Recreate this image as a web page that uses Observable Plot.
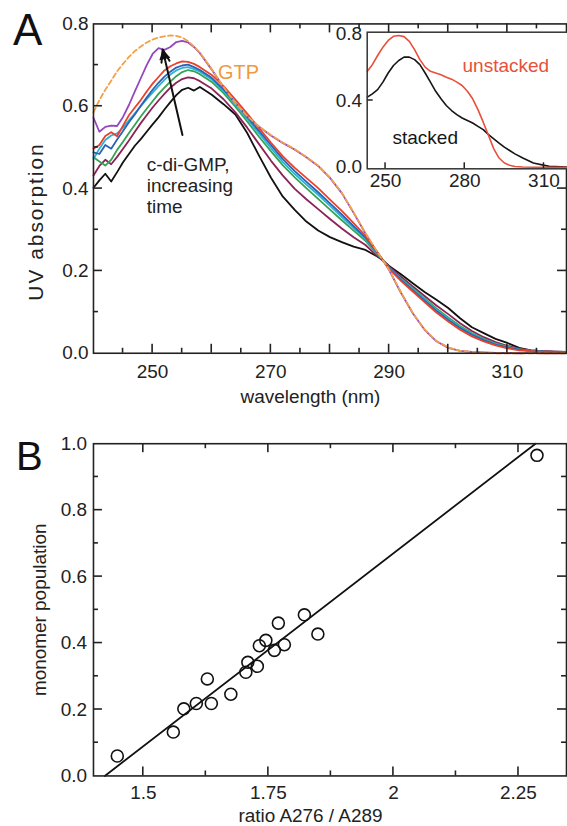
<!DOCTYPE html>
<html><head><meta charset="utf-8">
<script src="https://cdn.jsdelivr.net/npm/d3@7"></script>
<script src="https://cdn.jsdelivr.net/npm/@observablehq/plot@0.6"></script>
<style>
html,body{margin:0;padding:0;background:#fff;overflow:hidden}
#fig{position:relative;width:567px;height:826px;overflow:hidden;font-family:"Liberation Sans",Arial,Helvetica,sans-serif;color:#222;background:#fff}
#fig svg{position:absolute;overflow:visible}
.panel{position:absolute;line-height:1;color:#111;font-family:"Liberation Sans",Arial,Helvetica,sans-serif}
</style></head><body><div id="fig"></div>
<script>
// ---------- Panel A: UV spectra ----------
const wavelength = [240,241,242,243,244,245,246,247,248,249,250,251,252,253,254,255,256,257,258,260,262,264,266,268,270,272,274,276,278,280,282,284,286,288,289,290,292,294,296,298,300,302,304,306,308,310,312,314,316,318,320];
const absGTP = [0.585,0.615,0.640,0.662,0.685,0.703,0.720,0.734,0.745,0.755,0.762,0.767,0.770,0.772,0.771,0.767,0.758,0.745,0.730,0.690,0.647,0.607,0.576,0.551,0.530,0.512,0.496,0.477,0.456,0.427,0.390,0.342,0.292,0.246,0.225,0.203,0.148,0.098,0.058,0.030,0.014,0.006,0.003,0.001,0,0,0,0,0,0,0];
const absPurple = [0.572,0.538,0.550,0.553,0.552,0.574,0.603,0.636,0.668,0.700,0.727,0.741,0.737,0.744,0.756,0.759,0.755,0.744,0.729,0.689,0.646,0.606,0.575,0.550,0.529,0.511,0.495,0.476,0.455,0.426,0.389,0.341,0.291,0.245,0.225,0.202,0.147,0.097,0.057,0.029,0.013,0.006,0.003,0.002,0.001,0.001,0,0.001,0,0,0];
const absRed = [0.497,0.506,0.528,0.537,0.527,0.553,0.578,0.597,0.615,0.636,0.655,0.671,0.687,0.697,0.704,0.709,0.708,0.703,0.695,0.676,0.649,0.616,0.582,0.547,0.512,0.479,0.451,0.426,0.401,0.373,0.346,0.316,0.285,0.246,0.225,0.205,0.176,0.150,0.124,0.099,0.077,0.057,0.041,0.029,0.019,0.012,0.007,0.005,0.003,0.002,0.002];
const absBlue = [0.488,0.484,0.506,0.497,0.519,0.540,0.561,0.580,0.601,0.621,0.640,0.657,0.672,0.684,0.694,0.699,0.701,0.695,0.688,0.669,0.641,0.608,0.574,0.540,0.506,0.472,0.443,0.417,0.391,0.364,0.337,0.309,0.281,0.244,0.225,0.206,0.178,0.153,0.128,0.103,0.081,0.061,0.045,0.032,0.021,0.014,0.009,0.006,0.004,0.003,0.002];
const absCyan = [0.472,0.497,0.518,0.529,0.534,0.548,0.566,0.583,0.600,0.617,0.633,0.649,0.664,0.677,0.687,0.693,0.695,0.690,0.684,0.665,0.637,0.604,0.569,0.534,0.499,0.465,0.436,0.410,0.385,0.358,0.331,0.304,0.277,0.243,0.225,0.207,0.180,0.156,0.131,0.106,0.084,0.063,0.047,0.033,0.022,0.015,0.009,0.006,0.004,0.003,0.002];
const absGreen = [0.476,0.466,0.456,0.470,0.494,0.514,0.535,0.555,0.575,0.594,0.612,0.630,0.645,0.660,0.673,0.683,0.688,0.685,0.678,0.659,0.632,0.599,0.563,0.526,0.491,0.457,0.428,0.401,0.375,0.349,0.323,0.298,0.273,0.241,0.225,0.208,0.182,0.158,0.133,0.109,0.087,0.066,0.049,0.035,0.024,0.016,0.010,0.006,0.004,0.003,0.002];
const absMagenta = [0.432,0.455,0.470,0.459,0.477,0.497,0.517,0.538,0.559,0.578,0.597,0.614,0.630,0.645,0.657,0.666,0.670,0.668,0.661,0.643,0.617,0.585,0.548,0.508,0.468,0.432,0.400,0.374,0.350,0.326,0.303,0.282,0.263,0.236,0.225,0.210,0.186,0.162,0.139,0.116,0.095,0.073,0.054,0.039,0.027,0.018,0.011,0.007,0.005,0.004,0.003];
const absBlack = [0.402,0.420,0.436,0.417,0.440,0.464,0.484,0.504,0.520,0.538,0.556,0.573,0.592,0.610,0.627,0.640,0.645,0.638,0.647,0.628,0.605,0.580,0.535,0.480,0.427,0.381,0.349,0.320,0.298,0.282,0.270,0.259,0.251,0.235,0.225,0.212,0.192,0.170,0.149,0.130,0.110,0.085,0.063,0.049,0.035,0.025,0.013,0.007,0.005,0.004,0.003];
const arrowTail = [255.05, 0.530];
const arrowTip = [251.7, 0.738];
const wlTickLabels = [250, 270, 290, 310];
const wlMajorTicks = [250, 260, 270, 280, 290, 300, 310];
const wlMinorTicks = [245, 255, 265, 275, 285, 295, 305, 315];
const absTickLabels = [0, 0.2, 0.4, 0.6, 0.8];
const absMajorTicks = [0.2, 0.4, 0.6];
const absMinorTicks = [0.1, 0.3, 0.5, 0.7];

// ---------- Inset ----------
const insetWl = [243.1,245,247,249,251,253,255,257,259,261,263,265,267,269,271,273,275,277,279,281,283,285,287,289,291,293,295,297,299,302,306,312,319.3];
const unstackedAbs = [0.575,0.615,0.670,0.720,0.760,0.785,0.790,0.783,0.755,0.705,0.645,0.600,0.575,0.565,0.555,0.540,0.528,0.510,0.490,0.455,0.410,0.345,0.270,0.190,0.110,0.055,0.025,0.012,0.004,0.001,0,0,0];
const stackedAbs = [0.420,0.440,0.465,0.510,0.565,0.610,0.640,0.660,0.660,0.645,0.615,0.565,0.510,0.455,0.410,0.370,0.340,0.315,0.295,0.280,0.265,0.245,0.225,0.195,0.170,0.145,0.120,0.100,0.080,0.055,0.025,0.005,0];
const insetXTicks = [250, 280, 310];
const insetYTicks = [0.4];

// ---------- Panel B ----------
const ratio = [1.448,1.560,1.581,1.606,1.628,1.636,1.675,1.705,1.709,1.728,1.732,1.745,1.762,1.770,1.782,1.822,1.849,2.287];
const population = [0.060,0.132,0.202,0.218,0.292,0.218,0.246,0.312,0.342,0.330,0.392,0.408,0.378,0.460,0.395,0.485,0.427,0.965];
const fitRatio = [1.423, 2.284];
const fitPop = [0, 1];
const ratioTickLabels = [1.5, 1.75, 2, 2.25];
const ratioMinorTicks = [1.625, 1.875, 2.125];
const popTickLabels = [0, 0.2, 0.4, 0.6, 0.8, 1.0];
const popMajorTicks = [0.2, 0.4, 0.6, 0.8];
const popMinorTicks = [0.1, 0.3, 0.5, 0.7, 0.9];

// ---------- styles ----------
const FONT = '"Liberation Sans", Arial, Helvetica, sans-serif';
const INK = "#222";
const seriesStyle = [
  {values: absPurple, color: "#9448bd"},
  {values: absBlack, color: "#111111"},
  {values: absMagenta, color: "#8c2357"},
  {values: absGreen, color: "#35a352"},
  {values: absCyan, color: "#2bb3d6"},
  {values: absBlue, color: "#2b62b5"},
  {values: absRed, color: "#e8422c"}
];

const fig = document.getElementById("fig");
function place(node, left, top) {
  node.style.left = left + "px"; node.style.top = top + "px";
  fig.appendChild(node);
}
// inward frame ticks drawn as thin filled rectangles; pixel sizes converted through the scale extents
function frameTicks(xd, yd, fw, fh, xMaj, xMin, yMaj, yMin, major, minor, sides, w = 1.6) {
  const ky = (yd[1] - yd[0]) / fh, kx = (xd[1] - xd[0]) / fw;
  const r = [];
  for (const [vals, len] of [[xMaj, major], [xMin, minor]]) {
    for (const v of vals) {
      const x1 = v - w / 2 * kx, x2 = v + w / 2 * kx;
      if (sides.bottom) r.push({x1, x2, y1: yd[0], y2: yd[0] + len * ky});
      if (sides.top) r.push({x1, x2, y1: yd[1] - len * ky, y2: yd[1]});
    }
  }
  for (const [vals, len] of [[yMaj, major], [yMin, minor]]) {
    for (const v of vals) {
      const y1 = v - w / 2 * ky, y2 = v + w / 2 * ky;
      if (sides.left) r.push({x1: xd[0], x2: xd[0] + len * kx, y1, y2});
      if (sides.right) r.push({x1: xd[1] - len * kx, x2: xd[1], y1, y2});
    }
  }
  return Plot.rect(r, {x1: "x1", x2: "x2", y1: "y1", y2: "y2", fill: INK, stroke: "none"});
}
const toRows = (xs, ys) => xs.map((x, i) => ({x, y: ys[i]}));
const allSides = {bottom: true, top: true, left: true, right: true};

// ---------- Plot A ----------
const A = {W: 569, H: 420, ml: 93.3, mr: 1, mt: 23.5, mb: 66};
const xdA = [240, 320], ydA = [0, 0.8];
const plotA = Plot.plot({
  width: A.W, height: A.H,
  marginLeft: A.ml, marginRight: A.mr, marginTop: A.mt, marginBottom: A.mb,
  x: {domain: xdA},
  y: {domain: ydA},
  style: {fontFamily: FONT, fontSize: "19px", color: INK, background: "transparent", overflow: "visible"},
  marks: [
    ...seriesStyle.map(s => Plot.line(toRows(wavelength, s.values), {x: "x", y: "y", stroke: s.color, strokeWidth: 1.8})),
    Plot.line(toRows(wavelength, absGTP), {x: "x", y: "y", stroke: "#f3a149", strokeWidth: 1.8, strokeDasharray: "5,3"}),
    Plot.arrow([{x1: arrowTail[0], y1: arrowTail[1], x2: arrowTip[0], y2: arrowTip[1]}],
      {x1: "x1", y1: "y1", x2: "x2", y2: "y2", stroke: "#111", strokeWidth: 2, headLength: 10, headAngle: 36}),
    Plot.dot([arrowTip], {x: d => d[0], y: d => d[1], symbol: "triangle", r: 4.2, fill: "#111", stroke: "none", rotate: -13, dx: 1.5, dy: 6.5}),
    Plot.text(["GTP"], {frameAnchor: "top-left", dx: 125, dy: 41, text: d => d, textAnchor: "start", lineAnchor: "top", fill: "#f09a3e", fontSize: 20}),
    Plot.text(["c-di-GMP,\nincreasing\ntime"], {frameAnchor: "top-left", dx: 53.4, dy: 133, text: d => d, textAnchor: "start", lineAnchor: "top", lineHeight: 1.1, fill: INK, fontSize: 19}),
    frameTicks(xdA, ydA, A.W - A.ml - A.mr, A.H - A.mt - A.mb, wlMajorTicks, wlMinorTicks, absMajorTicks, absMinorTicks, 9, 5, allSides),
    Plot.axisX(wlTickLabels, {tickSize: 0, tickPadding: 11, label: null, fontSize: 19, tickFormat: d => String(d)}),
    Plot.axisY(absTickLabels, {tickSize: 0, tickPadding: 5, label: null, tickFormat: d3.format(".1f"), fontSize: 19}),
    Plot.text(["wavelength (nm)"], {frameAnchor: "bottom", dx: -19.6, dy: 44, text: d => d, lineAnchor: "middle", fontSize: 19}),
    Plot.text(["UV absorption"], {frameAnchor: "left", dx: -57, dy: 33, rotate: -90, text: d => d, textAnchor: "middle", lineAnchor: "middle", fontSize: 21}),
    Plot.frame({stroke: INK, strokeWidth: 1.6})
  ]
});
for (const t of plotA.querySelectorAll("text")) if (t.textContent === "UV absorption") t.setAttribute("letter-spacing", "2px");
place(plotA, 0, 0);

// ---------- Inset ----------
const I = {W: 243, H: 180, ml: 40.7, mr: 1, mt: 11.7, mb: 31.7};
const xdI = [243.05, 319.3], ydI = [-0.0096, 0.8096];
const inset = Plot.plot({
  width: I.W, height: I.H,
  marginLeft: I.ml, marginRight: I.mr, marginTop: I.mt, marginBottom: I.mb,
  x: {domain: xdI},
  y: {domain: ydI},
  style: {fontFamily: FONT, fontSize: "19px", color: INK, background: "transparent", overflow: "visible"},
  marks: [
    Plot.frame({fill: "white", stroke: "none"}),
    Plot.line(toRows(insetWl, stackedAbs), {x: "x", y: "y", stroke: "#151515", strokeWidth: 1.6}),
    Plot.line(toRows(insetWl, unstackedAbs), {x: "x", y: "y", stroke: "#e8503a", strokeWidth: 1.6}),
    frameTicks(xdI, ydI, I.W - I.ml - I.mr, I.H - I.mt - I.mb, insetXTicks, [], insetYTicks, [], 6, 3, {bottom: true, left: true}, 1.5),
    Plot.axisX(insetXTicks, {tickSize: 0, tickPadding: 5, label: null, fontSize: 19, tickFormat: d => String(d)}),
    Plot.axisY([0, 0.4, 0.8], {tickSize: 0, tickPadding: 5, label: null, tickFormat: d3.format(".1f"), fontSize: 19}),
    Plot.text(["unstacked"], {frameAnchor: "top-left", dx: 95.3, dy: 25.8, text: d => d, textAnchor: "start", lineAnchor: "top", fill: "#e8503a", fontSize: 19}),
    Plot.text(["stacked"], {frameAnchor: "top-left", dx: 25.3, dy: 97.8, text: d => d, textAnchor: "start", lineAnchor: "top", fill: "#151515", fontSize: 19}),
    Plot.frame({stroke: "#333", strokeWidth: 1.5})
  ]
});
place(inset, 326, 20);

// ---------- Plot B ----------
const B = {W: 569, H: 406, ml: 93.3, mr: 1, mt: 23.3, mb: 49.3};
const xdB = [1.4004, 2.346], ydB = [0, 1];
const plotB = Plot.plot({
  width: B.W, height: B.H,
  marginLeft: B.ml, marginRight: B.mr, marginTop: B.mt, marginBottom: B.mb,
  x: {domain: xdB},
  y: {domain: ydB},
  style: {fontFamily: FONT, fontSize: "19px", color: INK, background: "transparent", overflow: "visible"},
  marks: [
    Plot.line(toRows(fitRatio, fitPop), {x: "x", y: "y", stroke: "#111", strokeWidth: 1.8}),
    Plot.dot(toRows(ratio, population), {x: "x", y: "y", r: 6, stroke: "#111", strokeWidth: 1.6, fill: "none"}),
    frameTicks(xdB, ydB, B.W - B.ml - B.mr, B.H - B.mt - B.mb, ratioTickLabels, ratioMinorTicks, popMajorTicks, popMinorTicks, 9, 5, allSides),
    Plot.axisX(ratioTickLabels, {tickSize: 0, tickPadding: 9.5, label: null, fontSize: 19, tickFormat: d => String(d)}),
    Plot.axisY(popTickLabels, {tickSize: 0, tickPadding: 6.5, label: null, tickFormat: d3.format(".1f"), fontSize: 19}),
    Plot.text(["ratio A276 / A289"], {frameAnchor: "bottom", dx: -19.6, dy: 40, text: d => d, lineAnchor: "middle", fontSize: 19}),
    Plot.text(["monomer population"], {frameAnchor: "left", dx: -53.3, dy: 0, rotate: -90, text: d => d, textAnchor: "middle", lineAnchor: "middle", fontSize: 19}),
    Plot.frame({stroke: INK, strokeWidth: 1.6})
  ]
});
place(plotB, 0, 420);

// ---------- panel letters ----------
for (const [t, left, top, size] of [["A", 13, 7.5, 44], ["B", 16, 436, 40]]) {
  const d = document.createElement("div");
  d.className = "panel"; d.textContent = t;
  d.style.left = left + "px"; d.style.top = top + "px"; d.style.fontSize = size + "px";
  fig.appendChild(d);
}
</script></body></html>
